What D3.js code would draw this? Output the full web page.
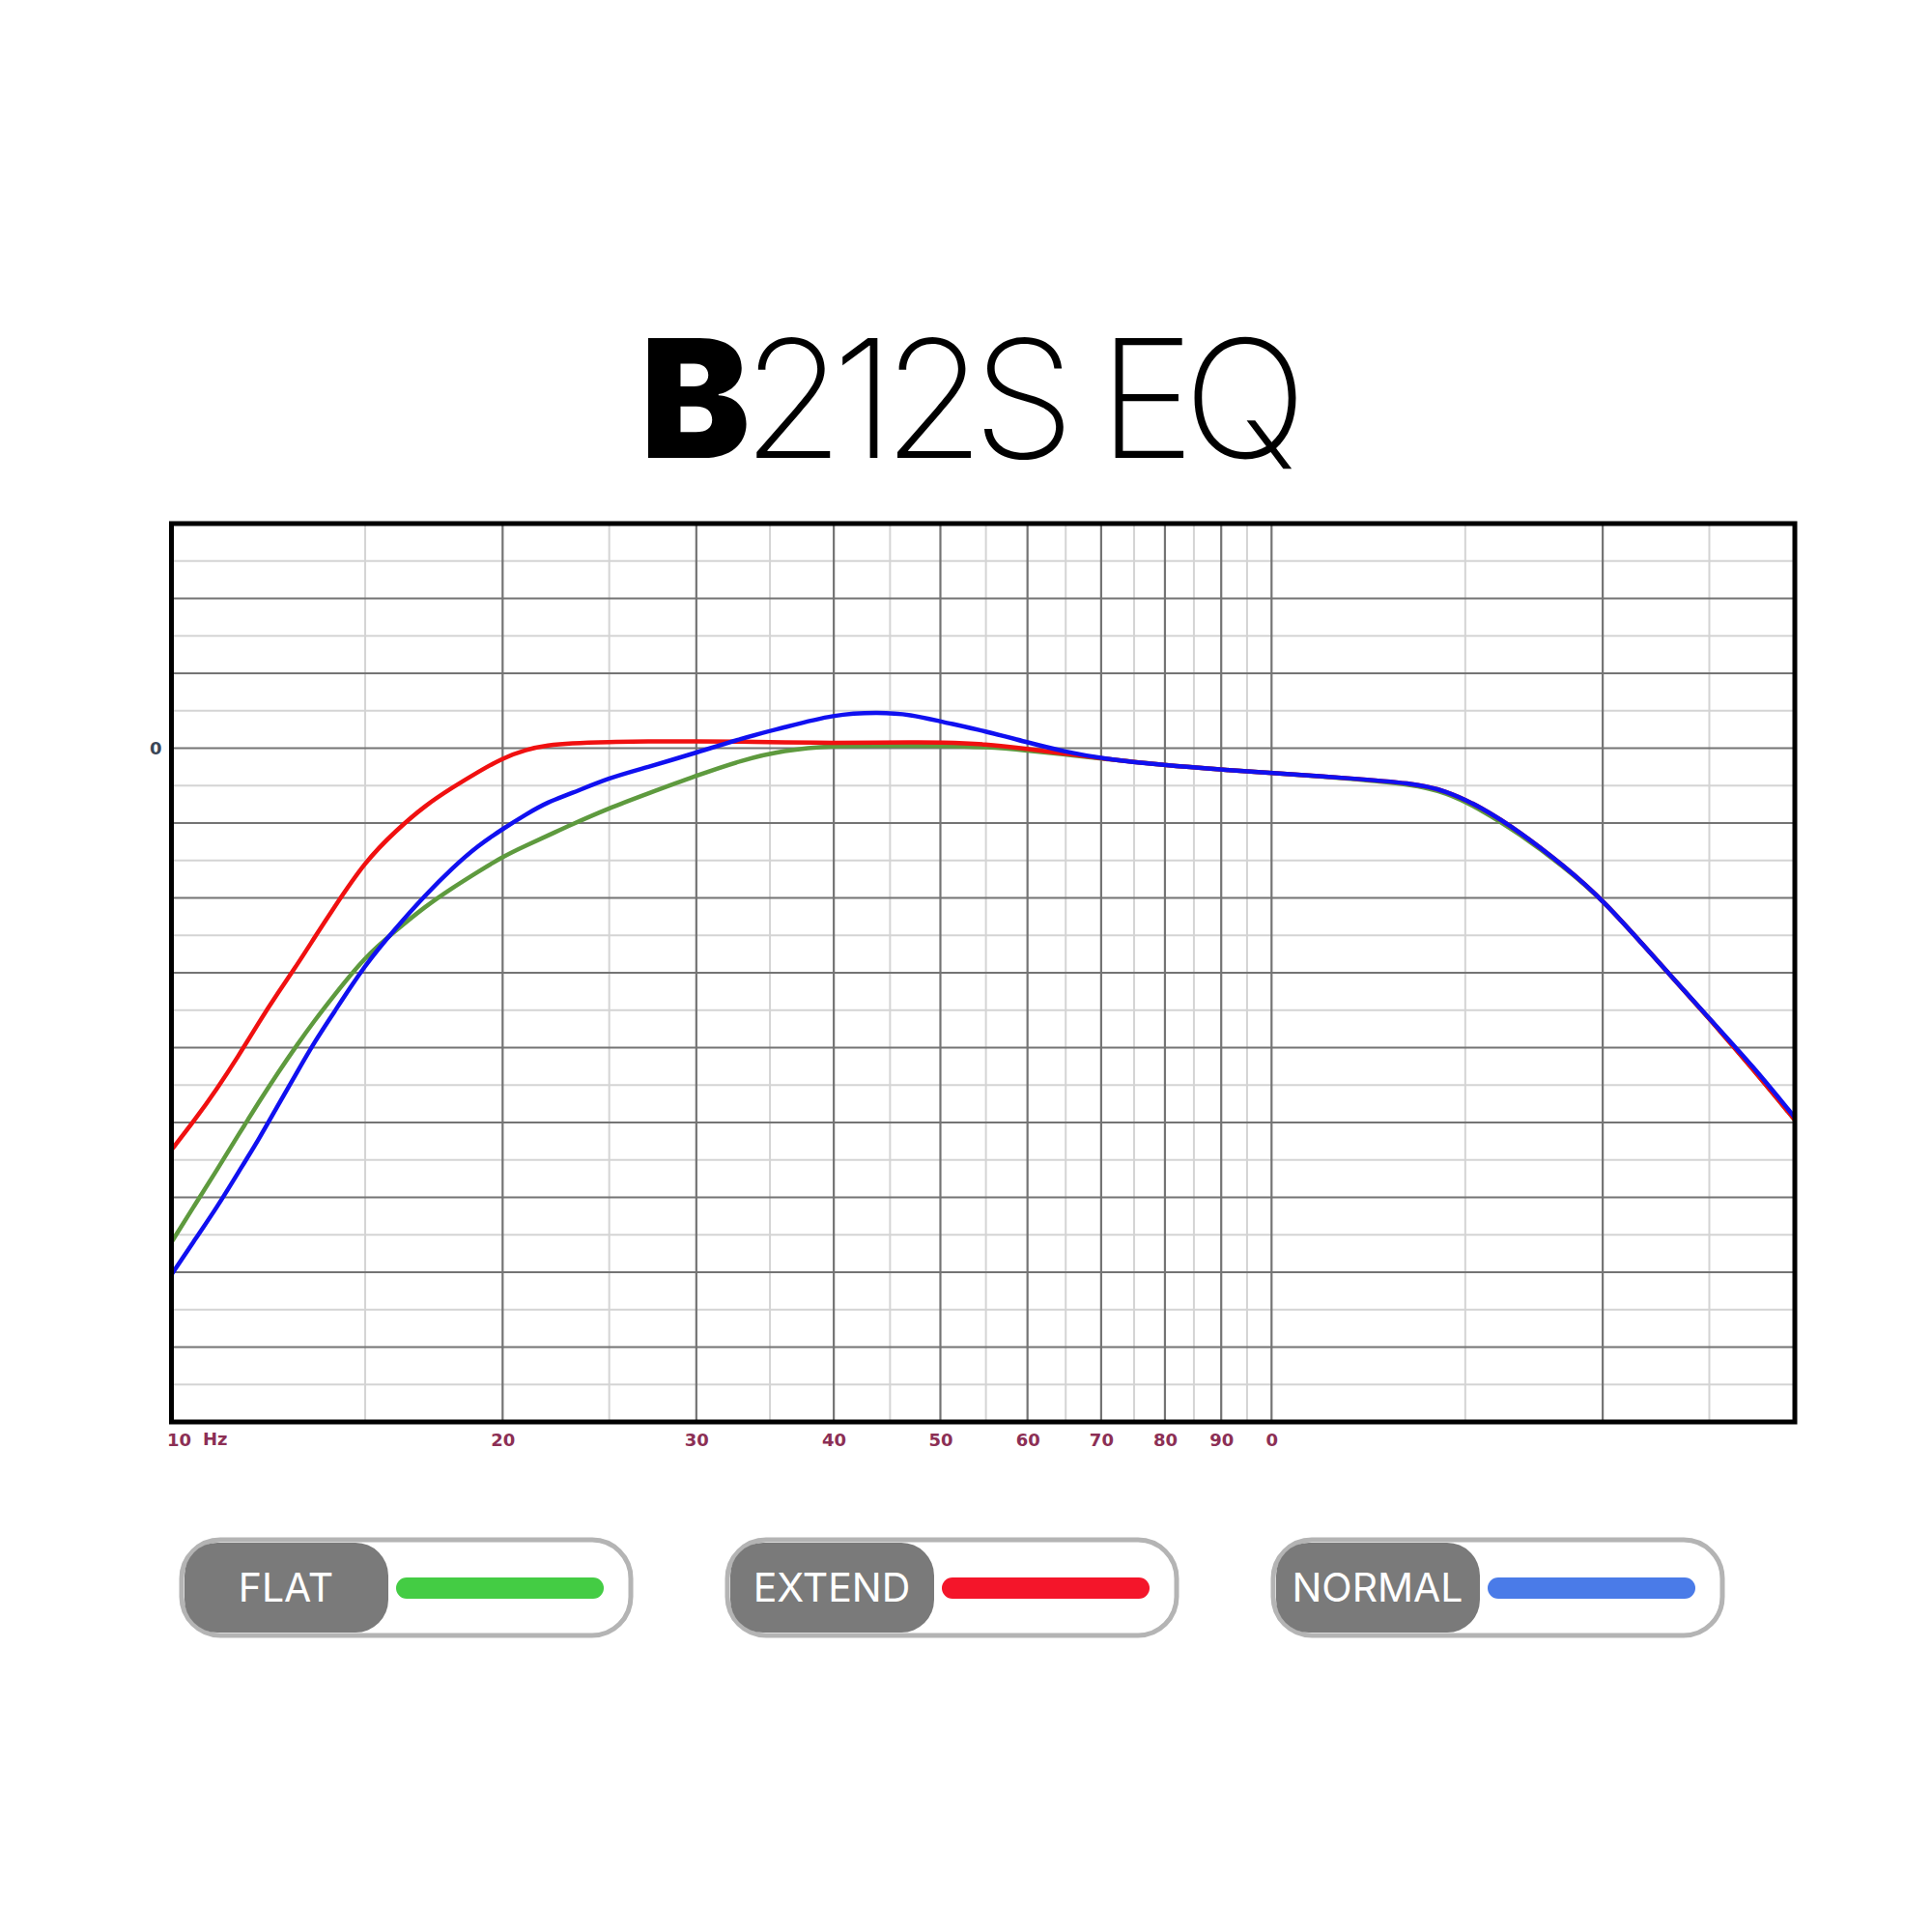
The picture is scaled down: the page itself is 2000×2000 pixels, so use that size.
<!DOCTYPE html>
<html>
<head>
<meta charset="utf-8">
<script src="https://cdn.jsdelivr.net/npm/d3@7"></script>
<style>
  html, body { margin: 0; padding: 0; background: #fff; }
</style>
</head>
<body>
<svg id="chart" width="2000" height="2000"></svg>
<script>
"use strict";

// frequency points (Hz) the curves were read at
var freqs = [10, 10.5, 11, 11.5, 12, 12.5, 13, 13.5, 14, 15, 16, 17, 18, 19, 20, 21, 22, 23, 25, 27,
  30, 33, 36, 40, 44, 47, 50, 55, 60, 65, 70, 80, 90, 100, 118, 134, 144, 155, 168, 184,
  200, 224, 251, 274, 299];

// level (dB) per EQ mode
var flatDb = [-19.8, -18.3, -16.9, -15.5, -14.2, -13.0, -11.9, -10.9, -10.0, -8.35, -7.3, -6.35, -5.6, -4.95, -4.35, -3.9, -3.5, -3.1, -2.4, -1.85,
  -1.1, -0.48, -0.08, 0.1, 0.1, 0.1, 0.1, 0.05, -0.09, -0.26, -0.41, -0.69, -0.86, -0.99, -1.22, -1.45, -1.76, -2.46, -3.43, -4.72,
  -6.06, -8.5, -10.92, -12.87, -14.9];
var extendDb = [-16.1, -14.9, -13.65, -12.35, -11.0, -9.8, -8.7, -7.57, -6.5, -4.53, -3.3, -2.3, -1.58, -0.95, -0.4, -0.05, 0.12, 0.2, 0.25, 0.27,
  0.27, 0.26, 0.23, 0.21, 0.22, 0.23, 0.23, 0.17, -0.03, -0.22, -0.41, -0.69, -0.86, -0.99, -1.21, -1.4, -1.69, -2.36, -3.34, -4.68,
  -6.06, -8.5, -10.92, -12.87, -14.9];
var normalDb = [-21.1, -19.7, -18.4, -17.0, -15.7, -14.3, -13.0, -11.75, -10.7, -8.66, -7.2, -5.9, -4.8, -3.9, -3.24, -2.65, -2.15, -1.85, -1.18, -0.78,
  -0.18, 0.4, 0.82, 1.36, 1.44, 1.35, 1.07, 0.68, 0.23, -0.15, -0.41, -0.69, -0.86, -0.99, -1.21, -1.4, -1.69, -2.36, -3.34, -4.68,
  -6.06, -8.5, -10.92, -12.75, -14.8];

var seriesNames = ["FLAT", "EXTEND", "NORMAL"];
var curveColors = ["#5e9a3e", "#f01010", "#1010f0"];
var legendColors = ["#44cc44", "#f4152a", "#4a7be8"];

var majorFreqs = [20, 30, 40, 50, 60, 70, 80, 90, 100, 200];
var minorFreqs = [15, 25, 35, 45, 55, 65, 75, 85, 95, 150, 250];
var freqLabels = [10, 20, 30, 40, 50, 60, 70, 80, 90, 100];
var majorDb = [-24, -21, -18, -15, -12, -9, -6, -3, 0, 3, 6];
var minorDb = [-25.5, -22.5, -19.5, -16.5, -13.5, -10.5, -7.5, -4.5, -1.5, 1.5, 4.5, 7.5];

var svg = d3.select("#chart");

var plot = { left: 177.5, right: 1858, top: 542, bottom: 1472 };

var x = d3.scaleLog().domain([10, 299]).range([plot.left, plot.right]);
var y = d3.scaleLinear().domain([-27, 9]).range([plot.bottom, plot.top]);

// title
var title = svg.append("text")
  .attr("x", 1002).attr("y", 474)
  .attr("text-anchor", "middle")
  .attr("font-family", "Inter, Lato, 'Open Sans', sans-serif")
  .attr("font-size", 170)
  .attr("fill", "#000");
title.append("tspan").attr("font-weight", 900).attr("letter-spacing", "-8").text("B");
title.append("tspan").attr("font-weight", 200).attr("letter-spacing", "-12").text("212S EQ");

// grid
var grid = svg.append("g");
grid.selectAll("line.hminor").data(minorDb).enter().append("line")
  .attr("x1", plot.left).attr("x2", plot.right)
  .attr("y1", function (d) { return y(d); }).attr("y2", function (d) { return y(d); })
  .attr("stroke", "#d4d4d4").attr("stroke-width", 2);
grid.selectAll("line.vminor").data(minorFreqs).enter().append("line")
  .attr("y1", plot.top).attr("y2", plot.bottom)
  .attr("x1", function (d) { return x(d); }).attr("x2", function (d) { return x(d); })
  .attr("stroke", "#d4d4d4").attr("stroke-width", 2);
grid.selectAll("line.hmajor").data(majorDb).enter().append("line")
  .attr("x1", plot.left).attr("x2", plot.right)
  .attr("y1", function (d) { return y(d); }).attr("y2", function (d) { return y(d); })
  .attr("stroke", "#747474").attr("stroke-width", 2.2);
grid.selectAll("line.vmajor").data(majorFreqs).enter().append("line")
  .attr("y1", plot.top).attr("y2", plot.bottom)
  .attr("x1", function (d) { return x(d); }).attr("x2", function (d) { return x(d); })
  .attr("stroke", "#747474").attr("stroke-width", 2.2);

// curves
svg.append("clipPath").attr("id", "clip").append("rect")
  .attr("x", plot.left).attr("y", plot.top)
  .attr("width", plot.right - plot.left).attr("height", plot.bottom - plot.top);

var line = d3.line()
  .x(function (d) { return x(d[0]); })
  .y(function (d) { return y(d[1]); })
  .curve(d3.curveBasis);

var curves = [flatDb, extendDb, normalDb];
svg.append("g").attr("clip-path", "url(#clip)")
  .selectAll("path").data(curves).enter().append("path")
  .attr("d", function (vals) { return line(d3.zip(freqs, vals)); })
  .attr("fill", "none")
  .attr("stroke", function (d, i) { return curveColors[i]; })
  .attr("stroke-width", 4.5)
  .attr("stroke-linejoin", "round");

// frame
svg.append("rect")
  .attr("x", plot.left).attr("y", plot.top)
  .attr("width", plot.right - plot.left).attr("height", plot.bottom - plot.top)
  .attr("fill", "none").attr("stroke", "#000").attr("stroke-width", 5);

// x axis labels
var xAxis = svg.append("g")
  .attr("transform", "translate(0," + plot.bottom + ")")
  .call(d3.axisBottom(x).tickValues(freqLabels).tickSize(0).tickPadding(12)
    .tickFormat(function (d) { return String(d % 100); }));
xAxis.select(".domain").remove();
xAxis.selectAll("text")
  .attr("font-family", "'DejaVu Sans', sans-serif")
  .attr("font-weight", "bold")
  .attr("font-size", 18)
  .attr("fill", "#8c2f55");
xAxis.selectAll(".tick").filter(function (d) { return d === 10; }).select("text")
  .attr("text-anchor", "start").attr("dx", -5);
svg.append("text")
  .attr("x", 210).attr("y", 1496)
  .attr("font-family", "'DejaVu Sans', sans-serif")
  .attr("font-weight", "bold").attr("font-size", 18)
  .attr("fill", "#8c2f55").text("Hz");

// y axis label
var yAxis = svg.append("g")
  .attr("transform", "translate(" + plot.left + ",0)")
  .call(d3.axisLeft(y).tickValues([0]).tickSize(0).tickPadding(10));
yAxis.select(".domain").remove();
yAxis.selectAll("text")
  .attr("font-family", "'DejaVu Sans', sans-serif")
  .attr("font-weight", "bold").attr("font-size", 18)
  .attr("fill", "#3a4656");

// legend
var legend = svg.selectAll("g.legend").data(seriesNames).enter().append("g")
  .attr("class", "legend")
  .attr("transform", function (d, i) { return "translate(" + (188 + i * 565) + ",1594)"; });
legend.append("rect")
  .attr("width", 465).attr("height", 99).attr("rx", 40)
  .attr("fill", "#fff").attr("stroke", "#b4b4b4").attr("stroke-width", 5);
legend.append("rect")
  .attr("x", 3).attr("y", 3).attr("width", 211).attr("height", 93).attr("rx", 34)
  .attr("fill", "#7a7a7a");
legend.append("text")
  .attr("x", 108).attr("y", 64)
  .attr("text-anchor", "middle")
  .attr("font-family", "Inter, 'Open Sans', sans-serif")
  .attr("font-size", 41)
  .attr("fill", "#fff")
  .text(function (d) { return d; });
legend.append("line")
  .attr("x1", 233).attr("x2", 426).attr("y1", 50).attr("y2", 50)
  .attr("stroke", function (d, i) { return legendColors[i]; })
  .attr("stroke-width", 22).attr("stroke-linecap", "round");
</script>
</body>
</html>
